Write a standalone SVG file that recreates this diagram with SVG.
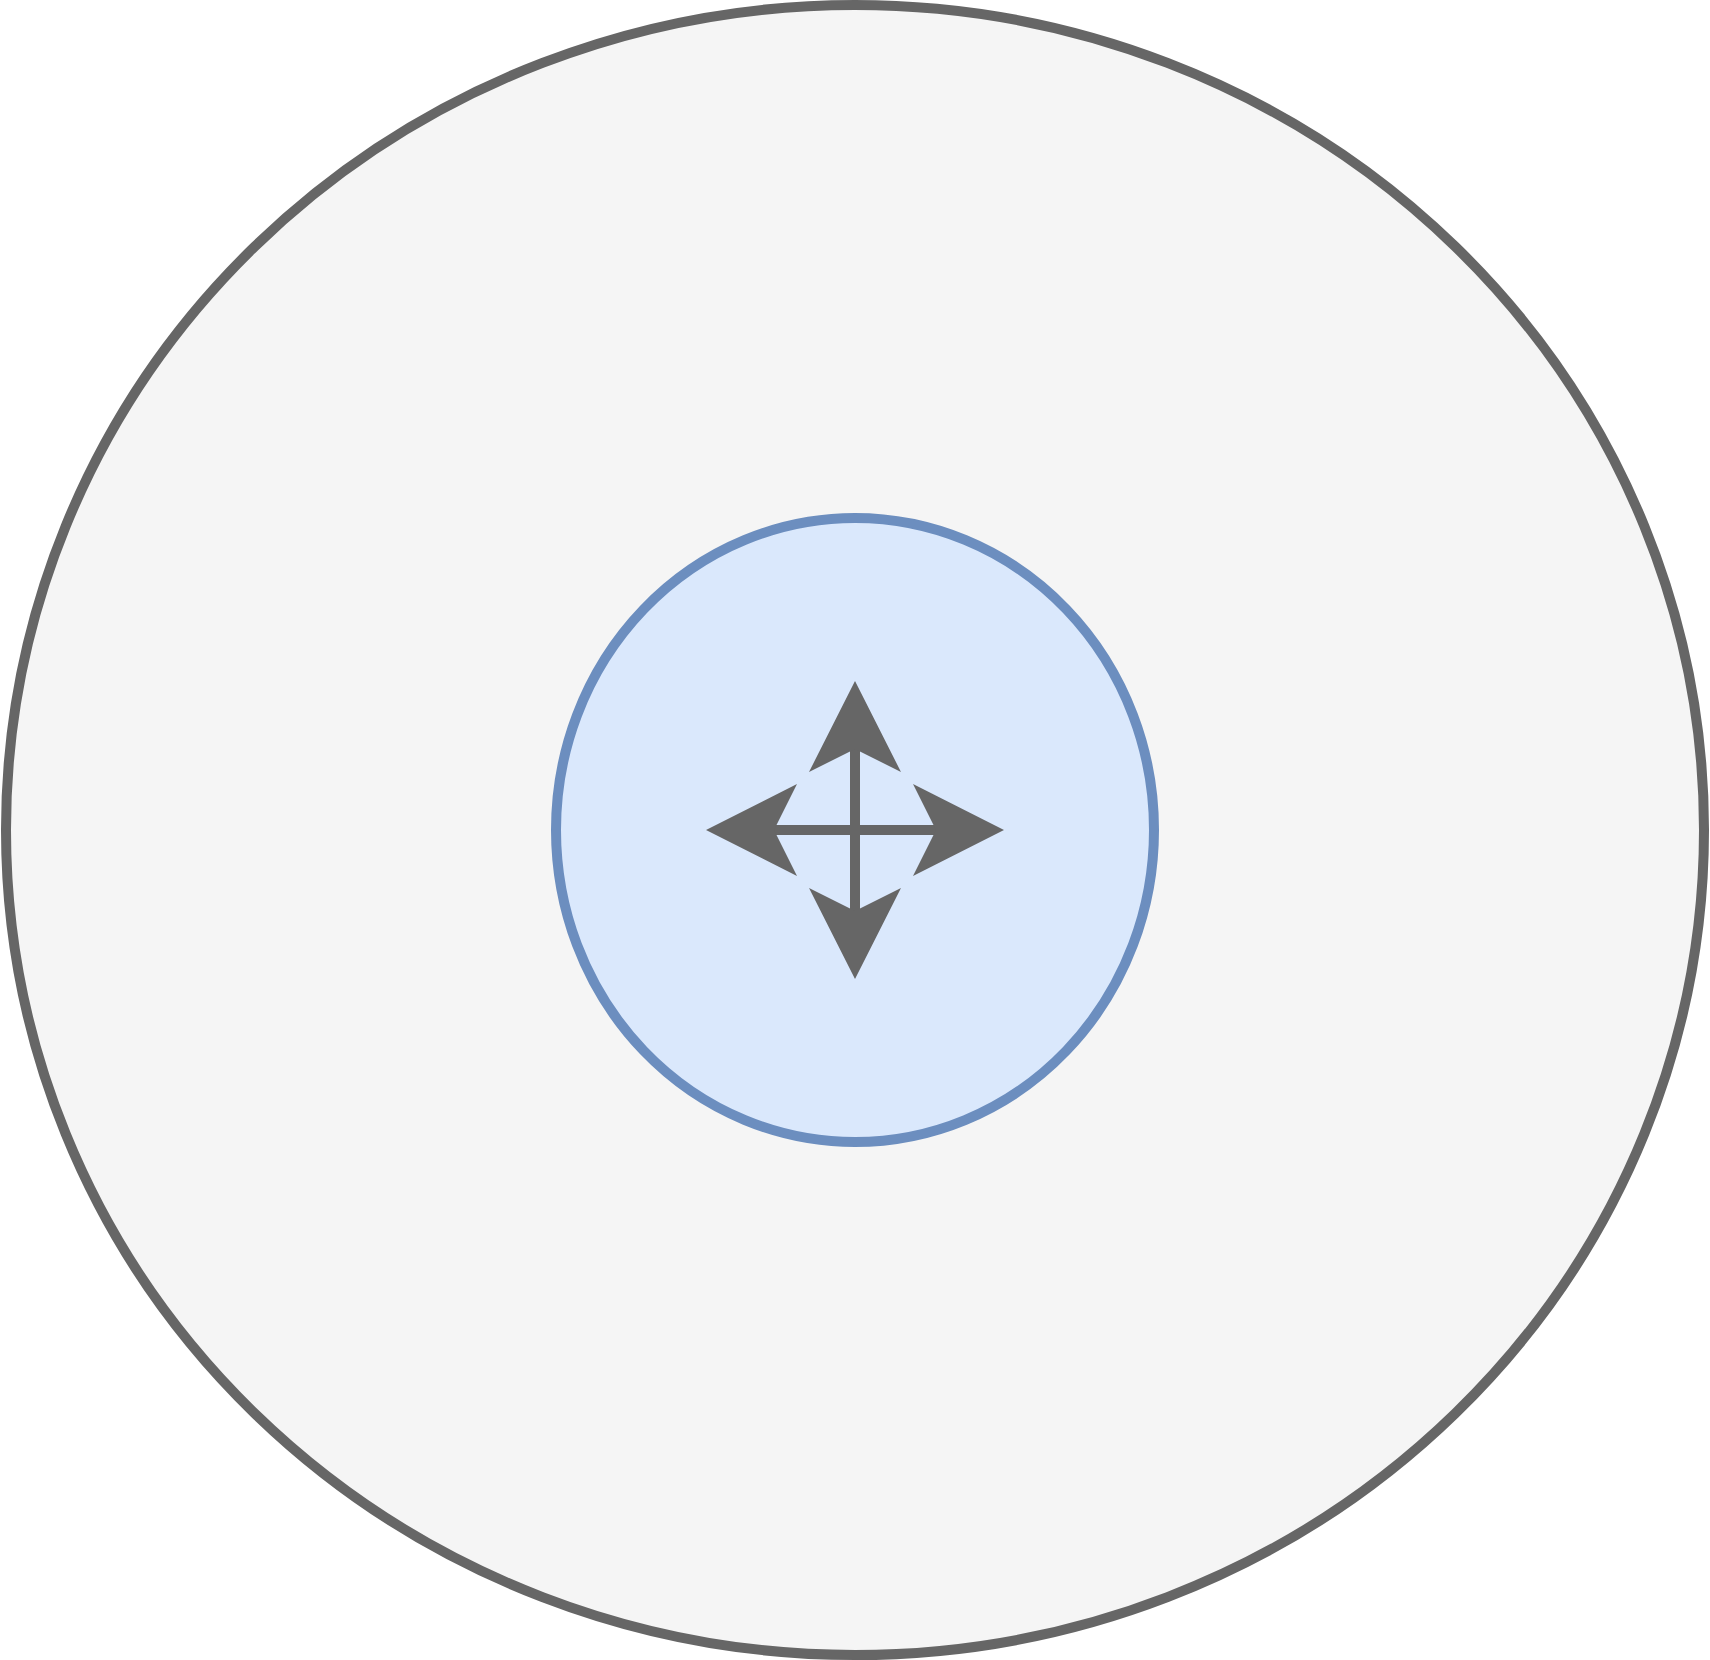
<svg xmlns="http://www.w3.org/2000/svg" width="1710" height="1660" viewBox="0 0 1710 1660">
  <style>
    .outer { fill: #f5f5f5; stroke: #666666; stroke-width: 10; }
    .inner { fill: #dae8fc; stroke: #6c8ebf; stroke-width: 10; }
    .shaft { stroke: #666666; stroke-width: 10; fill: none; }
    .head { fill: #666666; stroke: none; }
  </style>
  <rect width="1710" height="1660" fill="#ffffff"/>
  <g id="outer-ellipse">
    <ellipse class="outer" cx="855" cy="830" rx="849" ry="825"/>
  </g>
  <g id="inner-ellipse">
    <ellipse class="inner" cx="855" cy="830" rx="299" ry="312"/>
  </g>
  <g id="connectors">
    <line class="shaft" x1="855" y1="745" x2="855" y2="915"/>
    <line class="shaft" x1="770" y1="830" x2="940" y2="830"/>
    <polygon class="head" points="855,681 901,772 855,749 809,772"/>
    <polygon class="head" points="855,979 901,888 855,911 809,888"/>
    <polygon class="head" points="706,830 797,784 774,830 797,876"/>
    <polygon class="head" points="1004,830 913,784 936,830 913,876"/>
  </g>
</svg>
